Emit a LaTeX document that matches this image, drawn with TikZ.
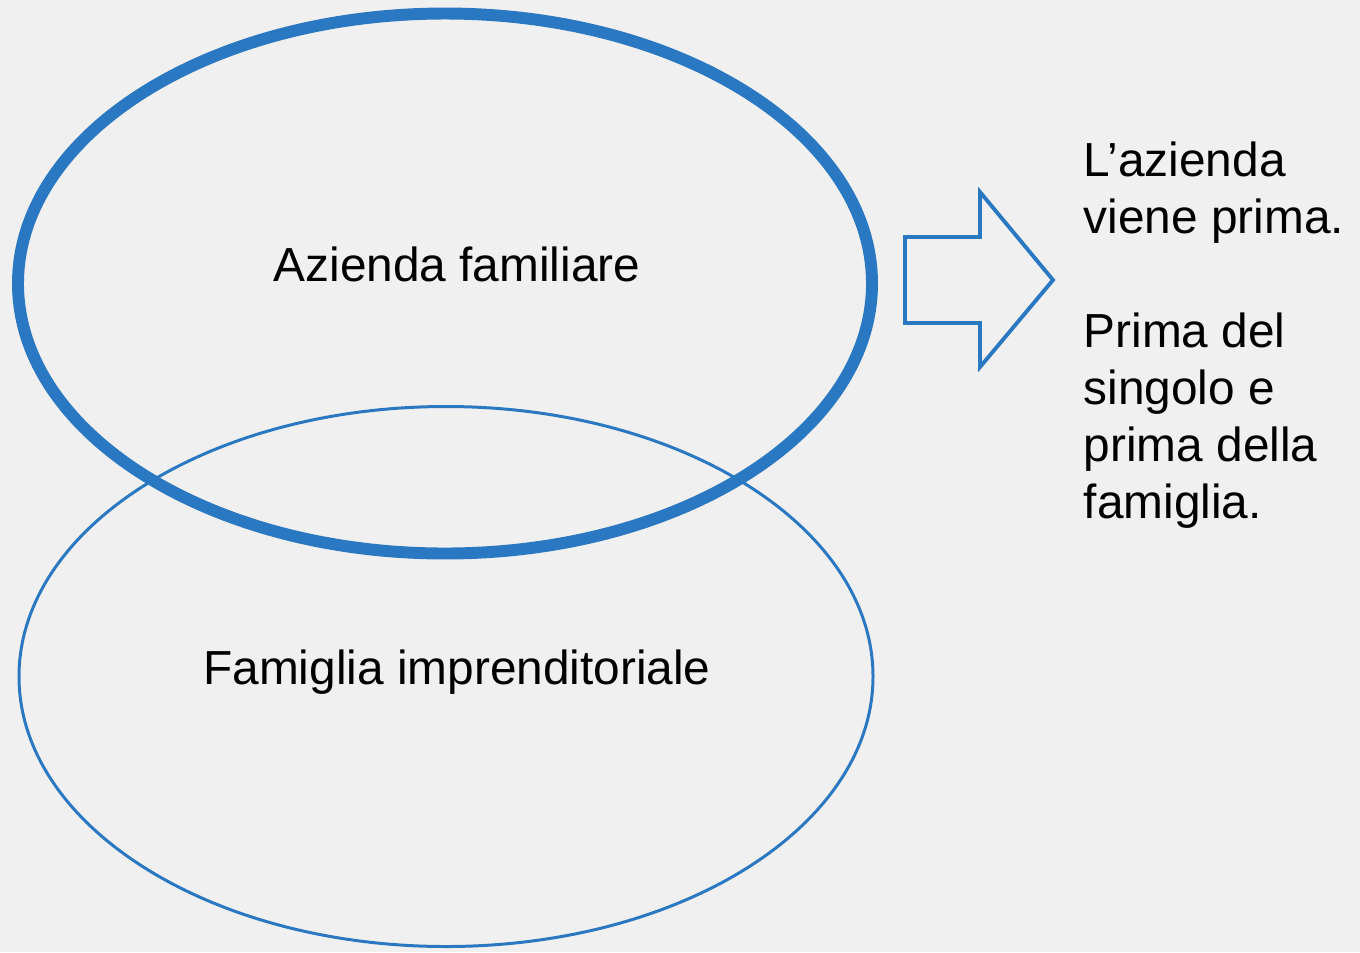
\documentclass[tikz,border=0pt]{standalone}
\usepackage{fontspec}
\setmainfont{Liberation Sans}
\usetikzlibrary{shapes,arrows,arrows.meta}
\usetikzlibrary{positioning}
\definecolor{sfondo}{HTML}{F0F0F0}
\definecolor{blu}{HTML}{2A78C2}
\tikzset{insieme/.style={ellipse,draw=blu,minimum width=8.54cm,minimum height=5.4cm,inner sep=0pt},
testo/.style={font=\fontsize{13.6}{16.2}\selectfont,inner sep=0pt}
}

\begin{document}
\begin{tikzpicture}[> = stealth]
            \fill[sfondo] (0,0) rectangle (13.6,-9.52);
            \useasboundingbox (0,0) rectangle (13.6,-9.52);
            \node[insieme,line width=0.85pt] (fam) at (4.46,-6.765) {};
            \node[insieme,line width=3.4pt] (az) at (4.45,-2.835) {};
            \node[testo] (t_az) at (4.57,-2.64) {Azienda familiare};
            \node[testo] (t_fam) at (4.57,-6.72) {Famiglia imprenditoriale};
            % freccia
            \coordinate (a_1) at (9.05,-2.37);
            \coordinate (a_2) at (9.80,-2.37);
            \coordinate (a_3) at (9.80,-1.92);
            \coordinate (a_tip) at (10.53,-2.80);
            \coordinate (a_5) at (9.80,-3.67);
            \coordinate (a_6) at (9.80,-3.23);
            \coordinate (a_7) at (9.05,-3.23);
            \draw[blu,line width=1.1pt] (a_1) -- (a_2) -- (a_3) -- (a_tip) -- (a_5) -- (a_6) -- (a_7) -- cycle;
            \node[testo,anchor=base west,align=left] (nota) at (10.83,-5.18)
                {L’azienda\\viene prima.\\[16.2pt]Prima del\\singolo e\\prima della\\famiglia.};
        \end{tikzpicture}
\end{document}
